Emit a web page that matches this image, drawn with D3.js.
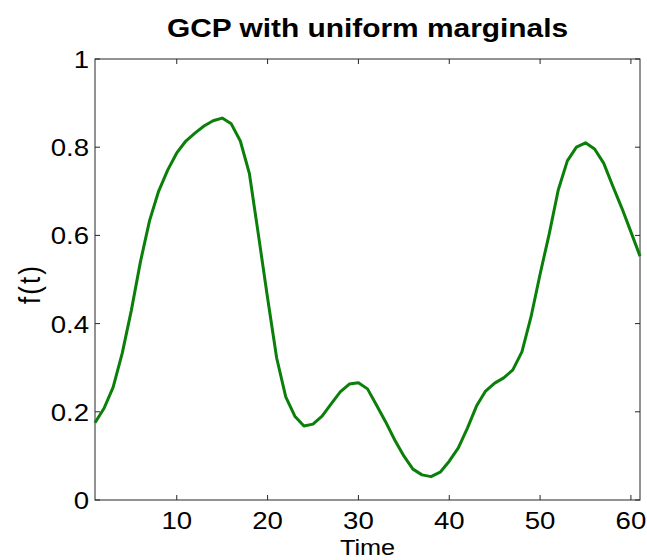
<!DOCTYPE html>
<html>
<head>
<meta charset="utf-8">
<script src="https://d3js.org/d3.v7.min.js"></script>
<style>
  html, body { margin: 0; padding: 0; background: #fff; }
  svg { display: block; }
  text { font-family: "Liberation Sans", Arial, Helvetica, sans-serif; fill: #000; }
</style>
</head>
<body>
<svg id="chart" width="647" height="560"></svg>
<script>
// ---- data ----
const titleText = "GCP with uniform marginals";
const xLabel = "Time";
const yLabel = "f(t)";
const time = d3.range(1, 62);
const values = [
  0.175, 0.208, 0.256, 0.333, 0.430, 0.540, 0.633, 0.700, 0.748, 0.787,
  0.814, 0.832, 0.848, 0.860, 0.866, 0.853, 0.814, 0.740, 0.600, 0.458,
  0.322, 0.234, 0.190, 0.168, 0.172, 0.190, 0.218, 0.245, 0.263, 0.266,
  0.252, 0.215, 0.177, 0.136, 0.100, 0.070, 0.057, 0.053, 0.063, 0.088,
  0.118, 0.163, 0.213, 0.247, 0.265, 0.277, 0.295, 0.336, 0.415, 0.512,
  0.603, 0.703, 0.769, 0.800, 0.810, 0.796, 0.764, 0.712, 0.662, 0.608,
  0.553
];
const xTicks = [10, 20, 30, 40, 50, 60];
const yTicks = [0, 0.2, 0.4, 0.6, 0.8, 1];
const yTickLabels = ["0", "0.2", "0.4", "0.6", "0.8", "1"];

// ---- layout ----
const svg = d3.select("#chart");
const pLeft = 95, pRight = 640, pTop = 59, pBottom = 500;
const stretch = 1.15;
const x = d3.scaleLinear().domain([1, 61]).range([pLeft, pRight]);
const y = d3.scaleLinear().domain([0, 1]).range([pBottom, pTop]);
const axisColor = "#262626";
const tickLen = 5;

// box
svg.append("rect")
  .attr("x", pLeft).attr("y", pTop)
  .attr("width", pRight - pLeft).attr("height", pBottom - pTop)
  .attr("fill", "none").attr("stroke", axisColor).attr("stroke-width", 1);

// ticks inside on all four sides
const g = svg.append("g");
xTicks.forEach(t => {
  g.append("line").attr("x1", x(t)).attr("x2", x(t)).attr("y1", pBottom).attr("y2", pBottom - tickLen)
    .attr("stroke", axisColor);
  g.append("line").attr("x1", x(t)).attr("x2", x(t)).attr("y1", pTop).attr("y2", pTop + tickLen)
    .attr("stroke", axisColor);
});
yTicks.forEach(t => {
  g.append("line").attr("x1", pLeft).attr("x2", pLeft + tickLen).attr("y1", y(t)).attr("y2", y(t))
    .attr("stroke", axisColor);
  g.append("line").attr("x1", pRight).attr("x2", pRight - tickLen).attr("y1", y(t)).attr("y2", y(t))
    .attr("stroke", axisColor);
});

function stretchedText(px, py, str, size, anchor, weight) {
  return svg.append("text")
    .attr("transform", `translate(${px},${py}) scale(${stretch},1)`)
    .attr("text-anchor", anchor)
    .attr("font-size", size)
    .attr("font-weight", weight || "normal")
    .text(str);
}

// x tick labels
xTicks.forEach(t => stretchedText(x(t), 529, String(t), 24, "middle"));
// y tick labels
yTicks.forEach((t, i) => stretchedText(89, y(t) + 9, yTickLabels[i], 24, "end"));

// title
stretchedText((pLeft + pRight) / 2, 37, titleText, 26, "middle", "bold");
// x label
stretchedText((pLeft + pRight) / 2, 555, xLabel, 22, "middle");
// y label (rotated)
svg.append("text")
  .attr("transform", `translate(40,285) rotate(-90) scale(1,${stretch})`)
  .attr("text-anchor", "middle")
  .attr("font-size", 26)
  .attr("textLength", 38)
  .attr("lengthAdjust", "spacing")
  .text(yLabel);

// line
const line = d3.line().x((d, i) => x(time[i])).y(d => y(d));
svg.append("path")
  .datum(values)
  .attr("d", line)
  .attr("fill", "none")
  .attr("stroke", "#0a7f0a")
  .attr("stroke-width", 3)
  .attr("stroke-linejoin", "round");
</script>
</body>
</html>
